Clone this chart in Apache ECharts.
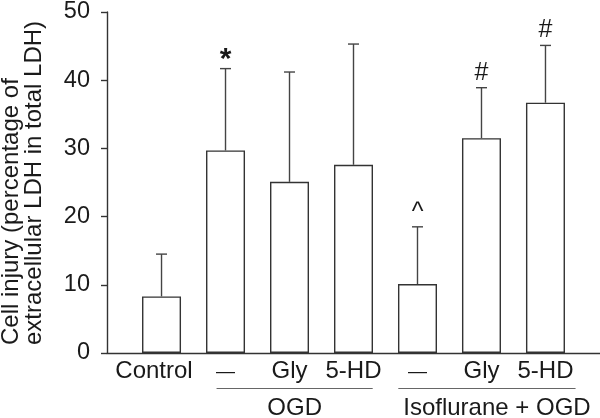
<!DOCTYPE html>
<html><head><meta charset="utf-8">
<script src="https://cdn.jsdelivr.net/npm/echarts@6/dist/echarts.min.js"></script>
<style>html,body{margin:0;padding:0;background:#fff}#c{width:600px;height:418px}</style>
</head><body><div id="c"></div>
<script>
const categories = ['Control', '\u2014', 'Gly', '5-HD', '\u2014', 'Gly', '5-HD'];
const means = [8.3, 29.7, 25.1, 27.6, 10.1, 31.5, 36.7];
const errors = [6.2, 12.0, 16.1, 17.7, 8.4, 7.4, 8.4];
const marks = ['', '*', '', '', '^', '#', '#'];
const groupNames = ['OGD', 'Isoflurane + OGD'];
const groupFrom = [1, 4];
const groupTo = [3, 6];
const yTicks = [0, 10, 20, 30, 40, 50];
const yTitle = ['Cell injury (percentage of', 'extracellular LDH in total LDH)'];

const font = '"Liberation Sans", Arial, sans-serif';
const ink = '#1a1a1a';
const chart = echarts.init(document.getElementById('c'), null, {renderer: 'canvas'});
const idx = categories.map((_, i) => i);

const markStyle = {
  '*': {font: 'bold 30px ' + font, dy: -9},
  '#': {font: '25px ' + font, dy: -15},
  '^': {font: '25px ' + font, dy: -14}
};

const option = {
  animation: false,
  backgroundColor: '#fff',
  grid: {left: 107, right: 0, top: 10, bottom: 65},
  xAxis: {
    type: 'value', min: -0.852, max: 6.852,
    splitLine: {show: false},
    axisLine: {show: true, onZero: false, lineStyle: {color: '#333', width: 1.4}},
    axisTick: {show: false},
    axisLabel: {
      customValues: idx, margin: 6,
      formatter: v => {
        const i = Math.round(v);
        const t = categories[i] || '';
        if (t === '\u2014') return '{d|\u2014}';
        if (i === 0) return '{c|' + t + '}';
        return t;
      },
      color: ink, fontSize: 24, fontFamily: font,
      rich: {
        d: {fontSize: 19, fontFamily: font, color: ink, padding: [3, 0, 0, 0]},
        c: {fontSize: 24, fontFamily: font, color: ink, padding: [0, 15, 0, 0]}
      }
    }
  },
  yAxis: {
    type: 'value', min: 0, max: 50, interval: 10,
    splitLine: {show: false},
    axisLine: {show: true, onZero: false, lineStyle: {color: '#333', width: 1.4}},
    axisTick: {show: true, inside: false, length: 6, lineStyle: {color: '#333', width: 1.4}},
    axisLabel: {margin: 17, color: ink, fontSize: 23.5, fontFamily: font,
      formatter: v => yTicks.indexOf(v) >= 0 ? String(v) : ''}
  },
  series: [
    {
      type: 'bar',
      data: idx.map(i => [i, means[i]]),
      barWidth: 39,
      itemStyle: {color: '#fff', borderColor: '#333', borderWidth: 1.4},
      z: 3
    },
    {
      type: 'custom',
      data: idx.map(i => [i, means[i], means[i] + errors[i]]),
      z: 2,
      renderItem: function (params, api) {
        const x = api.value(0);
        const p0 = api.coord([x, api.value(1)]);
        const p1 = api.coord([x, api.value(2)]);
        const cap = 5.5;
        const st = {stroke: '#444', lineWidth: 1.4};
        const m = marks[params.dataIndex];
        const children = [
          {type: 'line', shape: {x1: p0[0], y1: p0[1], x2: p1[0], y2: p1[1]}, style: st},
          {type: 'line', shape: {x1: p1[0] - cap, y1: p1[1], x2: p1[0] + cap, y2: p1[1]}, style: st}
        ];
        if (m) {
          const ms = markStyle[m];
          children.push({
            type: 'text',
            style: {
              text: m, x: p1[0], y: p1[1] + ms.dy,
              align: 'center', verticalAlign: 'middle',
              fill: ink, font: ms.font
            }
          });
        }
        return {type: 'group', children: children};
      }
    }
  ]
};
chart.setOption(option);

// group brackets under the category labels, and the y-axis title
const spanPad = [[-0.14, 0.30], [-0.30, 0.47]];
const gfx = [];
groupNames.forEach((name, g) => {
  const a = chart.convertToPixel({xAxisIndex: 0, yAxisIndex: 0}, [groupFrom[g] + spanPad[g][0], 0]);
  const b = chart.convertToPixel({xAxisIndex: 0, yAxisIndex: 0}, [groupTo[g] + spanPad[g][1], 0]);
  const y = a[1] + 35.5;
  gfx.push({type: 'line', shape: {x1: a[0], y1: y, x2: b[0], y2: y}, style: {stroke: '#666', lineWidth: 1.2}});
  gfx.push({type: 'text', x: (a[0] + b[0]) / 2 + (g === 1 ? 10 : 0), y: y + 20,
    style: {text: name, align: 'center', verticalAlign: 'middle', fill: ink, font: '24px ' + font}});
});
const y0 = chart.convertToPixel({yAxisIndex: 0}, 0);
gfx.push({type: 'text', x: 22.5, y: y0 - 8, rotation: Math.PI / 2,
  style: {text: yTitle.join('\n'), align: 'left', verticalAlign: 'middle', lineHeight: 23,
    fill: ink, font: '24px ' + font}});
chart.setOption({graphic: gfx});
</script>
</body></html>
